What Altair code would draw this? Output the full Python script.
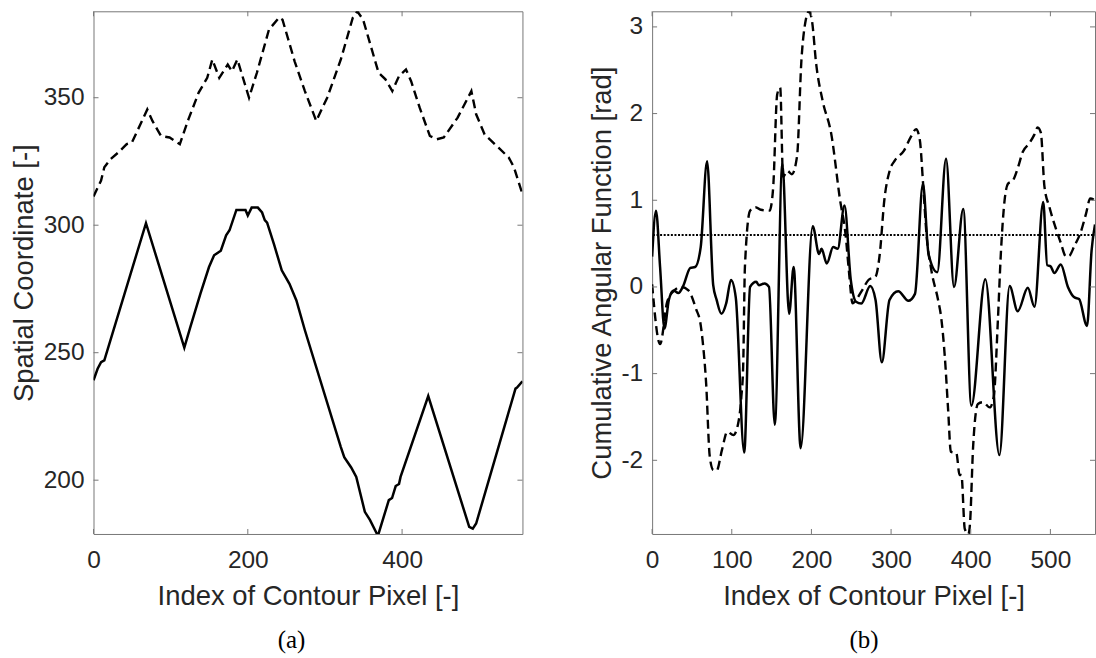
import altair as alt
import pandas as pd

# ---------------- data ----------------
# Panel (a): spatial coordinates along the contour
a_solid_x = [0, 5.3, 9.8, 14, 68, 117.7, 125, 138.6, 149.7, 156.3, 165, 171.9, 176.3, 185.2, 197, 200,
             205, 213, 218.5, 222, 225, 234, 244, 254, 263, 274, 320.6, 325, 334, 340.6, 351.7, 358.3,
             367.3, 369.5, 382.8, 387, 391.7, 396, 398, 433.9, 487, 491.6, 496, 547, 549, 556]
a_solid_y = [239.2, 243.7, 246.3, 247, 300.8, 252, 259.5, 273.2, 283.6, 288.2, 290, 296, 298, 306, 306, 303.8,
             306.9, 306.9, 305, 302, 301, 292.5, 282.3, 277, 270.5, 258.8, 213, 209, 205, 201.3, 187.6, 184.4,
             179, 179, 192.2, 193, 197.7, 198.5, 201.3, 233, 181.7, 181, 183, 235.9, 236.3, 238.8]

a_dash_x = [0, 9.8, 14, 22, 32, 43, 49.7, 60.8, 69.7, 76.4, 87.5, 98.6, 111.9, 123, 136.3, 147.4, 154, 163,
            174, 179.4, 186.5, 201.6, 211.8, 227.4, 240.7, 245, 260.7, 274, 288.7, 302.9, 320.6, 336, 341.9,
            349.5, 369.5, 378.4, 387.3, 396, 405, 411.7, 422.8, 436, 445, 454, 472, 489.8, 496, 507, 525,
            538.4, 545, 556]
a_dash_y = [311.3, 317.5, 322.7, 325.9, 328.5, 331.8, 332.4, 339.6, 345.4, 340.9, 335, 334.4, 331.8, 341.5,
            352, 357.8, 365, 357.8, 363, 360.4, 365, 350, 359.8, 376.7, 381.5, 380.6, 364.3, 352.6, 340.9, 350,
            365, 381.3, 383.9, 380.6, 359.8, 357.2, 352.6, 358.5, 361.1, 356.5, 346.1, 335, 333.7, 334.4,
            342.2, 352.6, 343.5, 335.6, 330.4, 326.5, 322.7, 312.2]

# Panel (b): cumulative angular function
b_solid_x = [0, 4.9, 10, 15.5, 21, 27, 33, 39, 48, 54, 61, 69, 76.7, 81, 87, 93, 99, 105, 115.6, 123, 130.7,
             134, 141, 146.7, 154, 163.5, 172, 177.7, 186.5, 201.6, 209.6, 212.7, 219.3, 227.3, 233, 241.5,
             249.4, 256, 262.7, 273.8, 280.5, 288.4, 298, 309, 321.7, 330, 340, 347, 358, 369, 379, 390.6,
             400.8, 418.3, 436, 448.8, 459, 471.7, 480, 491, 496, 500, 505, 513, 522, 530, 536, 546, 551.7, 556]
b_solid_y = [0.35, 0.88, 0.23, -0.48, -0.15, -0.04, -0.07, 0.01, 0.22, 0.23, 0.46, 1.45, 0.02, -0.15, -0.31,
             -0.19, 0.08, -0.12, -1.91, 0.0, 0.06, 0.02, 0.04, 0.0, -1.59, 1.42, -0.31, 0.23, -1.86, 0.7, 0.38,
             0.44, 0.27, 0.46, 0.44, 0.94, 0.08, -0.17, -0.19, 0.01, -0.15, -0.87, -0.15, -0.05, -0.16, -0.08,
             1.19, 0.38, 0.17, 1.48, 0.0, 0.9, -1.37, 0.09, -1.94, 0.01, -0.28, -0.01, -0.23, 0.98, 0.25, 0.24,
             0.16, 0.26, 0.0, -0.12, -0.14, -0.45, 0.42, 0.72]

b_dash_x = [0, 10, 19, 28, 36.8, 45.6, 55, 61, 63.4, 67.8, 72.3, 76.6, 81, 87.7, 94.4, 102, 107.7, 112, 114.3,
            116.5, 123, 129.8, 136.5, 147.5, 152, 157, 160.8, 164.4, 169.7, 175.4, 182, 187.4, 192.7, 197,
            200.7, 206, 214, 225, 236, 242.8, 247, 251.7, 256, 263.6, 271.6, 280.5, 285.8, 291.5, 298.2,
            304.8, 316, 324.8, 331.4, 336, 340.4, 344.6, 350.8, 359, 363, 367.5, 371.7, 375, 382, 386, 388.3,
            392.5, 397, 399, 403, 409, 415.4, 423.8, 429, 434, 438, 442.5, 446.7, 453, 459, 465.4, 473.8, 480,
            484, 488, 492.5, 498.8, 507, 513, 519.6, 523.8, 530, 538, 544.6, 550, 556]
b_dash_y = [0.03, -0.66, -0.17, -0.04, 0.0, -0.04, -0.25, -0.44, -0.62, -1.11, -1.95, -2.11, -2.12, -1.88,
            -1.67, -1.71, -1.59, -1.27, -0.92, 0.23, 0.88, 0.92, 0.89, 0.88, 1.15, 2.22, 2.3, 1.27, 1.34, 1.3,
            1.51, 2.61, 3.07, 3.18, 3.07, 2.57, 2.15, 1.76, 1.0, 0.61, 0.19, -0.19, -0.15, -0.04, 0.08, 0.12,
            0.38, 1.0, 1.34, 1.46, 1.57, 1.73, 1.82, 1.7, 1.16, 0.59, 0.18, -0.15, -0.36, -0.81, -1.43, -1.9,
            -1.92, -2.17, -2.17, -2.79, -2.85, -2.74, -1.84, -1.35, -1.33, -1.39, -1.26, -0.4, 0.42, 1.0,
            1.19, 1.23, 1.37, 1.56, 1.66, 1.76, 1.84, 1.78, 1.16, 0.92, 0.67, 0.51, 0.35, 0.36, 0.47, 0.63,
            0.84, 1.02, 1.0]

b_thresh_x = [1, 556]
b_thresh_y = [0.6, 0.6]

a_xticks = [0, 200, 400]
a_yticks = [200, 250, 300, 350]
b_xticks = [0, 100, 200, 300, 400, 500]
b_yticks = [-2, -1, 0, 1, 2, 3]

a_xdomain = [0, 556]
a_ydomain = [178.9, 383.9]
b_xdomain = [0, 556]
b_ydomain = [-2.85, 3.18]

# ---------------- styling ----------------
FONT = "Liberation Sans"
SERIF = "Liberation Serif"
TXT = "#262626"
BOX = "#777777"
H = 524
TICK = 5
LABEL_EXPR = "replace(datum.label, '\u2212', '-')"


def panel(sx, sy, dx_, dy_, xdom, ydom, xticks, yticks, ytitle, ytitle_x, width,
          caption, cap_dx, interp, thresh=None):
    xs = alt.Scale(domain=xdom, nice=False, zero=False)
    ys = alt.Scale(domain=ydom, nice=False, zero=False)
    xaxis = alt.Axis(values=xticks, title="Index of Contour Pixel [-]", domain=False, ticks=False,
                     tickSize=0, grid=False, labelFont=FONT, labelFontSize=24.5, labelColor=TXT,
                     labelPadding=15, labelFlush=False, labelOverlap=False, labelExpr=LABEL_EXPR,
                     titleFont=FONT, titleFontSize=27.5, titleFontWeight="normal", titleColor=TXT,
                     titleX=width / 2, titleY=63, titleBaseline="middle", titleAlign="center",
                     titleAngle=0)
    yaxis = alt.Axis(values=yticks, title=ytitle, domain=False, ticks=False, tickSize=0, grid=False,
                     labelFont=FONT, labelFontSize=24.5, labelColor=TXT, labelPadding=9.5,
                     labelFlush=False, labelOverlap=False, labelExpr=LABEL_EXPR,
                     titleFont=FONT, titleFontSize=27.5, titleFontWeight="normal", titleColor=TXT,
                     titleX=ytitle_x, titleY=H / 2, titleBaseline="middle", titleAlign="center",
                     titleAngle=270)
    X = alt.X("x:Q", scale=xs, axis=xaxis)
    Y = alt.Y("y:Q", scale=ys, axis=yaxis)

    solid = alt.Chart(pd.DataFrame({"x": sx, "y": sy})).mark_line(
        color="black", strokeWidth=2.5, interpolate=interp, clip=True).encode(x=X, y=Y)
    dashed = alt.Chart(pd.DataFrame({"x": dx_, "y": dy_})).mark_line(
        color="black", strokeWidth=2.4, strokeDash=[9, 5], interpolate=interp, clip=True).encode(x=X, y=Y)
    layers = [solid, dashed]
    if thresh is not None:
        layers.append(alt.Chart(pd.DataFrame({"x": thresh[0], "y": thresh[1]})).mark_line(
            color="black", strokeWidth=2, strokeDash=[2, 1.6], clip=True).encode(x=X, y=Y))

    xt = pd.DataFrame({"x": xticks})
    yt = pd.DataFrame({"y": yticks})
    tick_style = dict(color=BOX, strokeWidth=1)
    layers += [
        alt.Chart(xt).mark_rule(**tick_style).encode(x=X, y=alt.value(H), y2=alt.value(H - TICK)),
        alt.Chart(xt).mark_rule(**tick_style).encode(x=X, y=alt.value(0), y2=alt.value(TICK)),
        alt.Chart(yt).mark_rule(**tick_style).encode(y=Y, x=alt.value(0), x2=alt.value(TICK)),
        alt.Chart(yt).mark_rule(**tick_style).encode(y=Y, x=alt.value(width - TICK), x2=alt.value(width)),
    ]
    return alt.layer(*layers).properties(
        width=width, height=H,
        title=alt.TitleParams(caption, orient="bottom", font=SERIF, fontSize=25, fontWeight="normal",
                              color="black", offset=18, dx=cap_dx, frame="group", anchor="middle"),
    )


left = panel(a_solid_x, a_solid_y, a_dash_x, a_dash_y, a_xdomain, a_ydomain, a_xticks, a_yticks,
             "Spatial Coordinate [-]", -69, 430, "(a)", -16.5, "linear")
right = panel(b_solid_x, b_solid_y, b_dash_x, b_dash_y, b_xdomain, b_ydomain, b_xticks, b_yticks,
              "Cumulative Angular Function [rad]", -50, 444, "(b)", -9.5, "monotone",
              thresh=(b_thresh_x, b_thresh_y))

chart = alt.hconcat(left, right, spacing=130, bounds="flush").properties(
    padding={"left": 9.75, "top": 9.5, "right": 0, "bottom": 0},
    background="white",
).configure_view(stroke=BOX, strokeWidth=1)

chart.save("out.html", embed_options={"renderer": "svg", "actions": False})
